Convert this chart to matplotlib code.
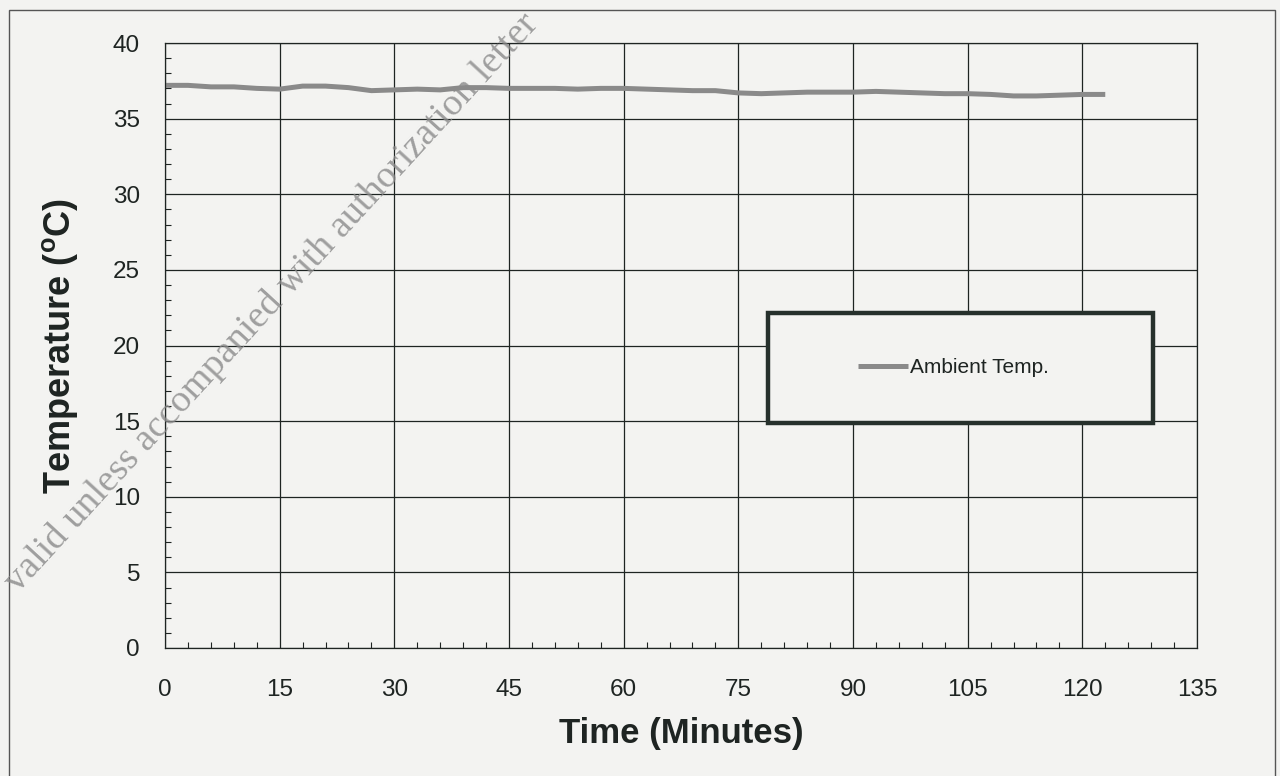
import matplotlib
matplotlib.use('Agg')
import matplotlib.pyplot as plt
from matplotlib.patches import Rectangle
from matplotlib.ticker import MultipleLocator

# данные (время в минутах, температура в °C)
time_min = [0, 3, 6, 9, 12, 15, 18, 21, 24, 27, 30, 33, 36, 39, 42, 45, 48, 51, 54, 57, 60,
            63, 66, 69, 72, 75, 78, 81, 84, 87, 90, 93, 96, 99, 102, 105, 108, 111, 114, 117,
            120, 123]
ambient_temp = [37.2, 37.2, 37.1, 37.1, 37.0, 36.95, 37.15, 37.15, 37.05, 36.85, 36.9, 36.95,
                36.9, 37.05, 37.05, 37.0, 37.0, 37.0, 36.95, 37.0, 37.0, 36.95, 36.9, 36.85,
                36.85, 36.7, 36.65, 36.7, 36.75, 36.75, 36.75, 36.8, 36.75, 36.7, 36.65, 36.65,
                36.6, 36.5, 36.5, 36.55, 36.6, 36.6]
series_label = 'Ambient Temp.'
x_ticks = [0, 15, 30, 45, 60, 75, 90, 105, 120, 135]
y_ticks = [0, 5, 10, 15, 20, 25, 30, 35, 40]

plt.rcParams['font.family'] = ['Liberation Sans', 'DejaVu Sans']
plt.rcParams['mathtext.fontset'] = 'custom'
plt.rcParams['mathtext.bf'] = 'Liberation Sans:bold'
plt.rcParams['mathtext.rm'] = 'Liberation Sans'

paper = '#f3f3f1'
ink = '#1e2422'

fig = plt.figure(figsize=(12.8, 7.76), dpi=100, facecolor=paper)
ax = fig.add_axes([165 / 1280, 1 - 648 / 776, 1032 / 1280, 605 / 776])
ax.set_facecolor(paper)

ax.plot(time_min, ambient_temp, color='#8a8a8a', linewidth=3.6, label=series_label,
        solid_capstyle='butt')

ax.set_xlim(0, 135)
ax.set_ylim(0, 40)
ax.set_xticks(x_ticks)
ax.set_yticks(y_ticks)
ax.xaxis.set_minor_locator(MultipleLocator(3))
ax.yaxis.set_minor_locator(MultipleLocator(1))
ax.grid(which='major', color=ink, linewidth=0.9)
ax.tick_params(which='major', length=0, labelsize=17.5, colors=ink)
ax.tick_params(axis='x', which='major', pad=22)
ax.tick_params(axis='y', which='major', pad=18)
ax.tick_params(which='minor', direction='in', length=4, width=0.8, color=ink)
for sp in ax.spines.values():
    sp.set_color(ink)
    sp.set_linewidth(0.9)

ax.set_xlabel('Time (Minutes)', fontsize=25, fontweight='bold', color=ink, labelpad=12)
ax.set_ylabel(r'Temperature ($\mathbf{^{o}}$C)', fontsize=26, fontweight='bold', color=ink,
              labelpad=24)

# рамка легенды с толстой линией
ax.add_patch(Rectangle((0.5843, 0.3719), 0.3731, 0.1818, transform=ax.transAxes,
                       facecolor=paper, edgecolor='#26302c', linewidth=3.2, zorder=5))
leg = ax.legend(loc='center', bbox_to_anchor=(0.764, 0.463), frameon=False, fontsize=15,
                handlelength=2.4, handletextpad=0.1, labelcolor=ink)
leg.set_zorder(6)

# внешняя рамка страницы
fig.add_artist(Rectangle((9 / 1280, -0.05), 1266 / 1280, 1.05 - 10 / 776,
                         transform=fig.transFigure, fill=False, edgecolor='#555555',
                         linewidth=1.0))

# водяной знак
fig.text(18 / 1280, 1 - 594 / 776, 'valid unless accompanied with authorization letter',
         rotation=47.5, rotation_mode='anchor', ha='left', va='baseline',
         family=['Liberation Serif', 'DejaVu Serif'], fontsize=27.5, color='#8a8a8a',
         alpha=0.8, zorder=10)

fig.savefig('out.png', dpi=100, facecolor=paper)
